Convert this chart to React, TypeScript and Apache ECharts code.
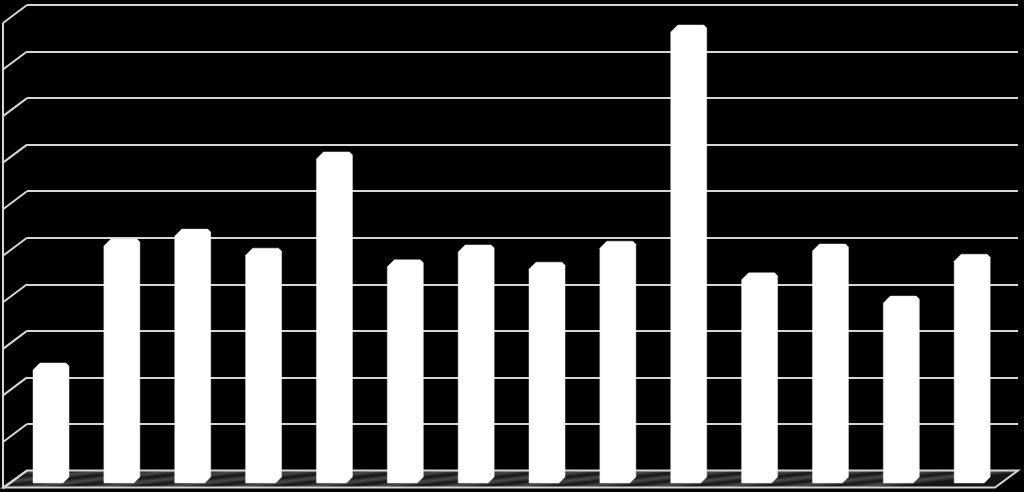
import React, { useEffect, useRef } from "react";
import * as echarts from "echarts";

const categories = ["1", "2", "3", "4", "5", "6", "7", "8", "9", "10", "11", "12", "13", "14"];
const values = [25.8, 52.5, 54.6, 50.5, 71.2, 48.0, 51.2, 47.5, 52.0, 98.5, 45.2, 51.4, 40.2, 49.2];
const gridTicks = [0, 10, 20, 30, 40, 50, 60, 70, 80, 90, 100];

export default function App() {
  const ref = useRef<HTMLDivElement>(null);
  useEffect(() => {
    const chart = echarts.init(ref.current!, null, { renderer: "svg" });
    const lineColor = "#d6d6d6";
    const floorStops: any[] = [];
    const n = 30;
    for (let i = 0; i <= n; i++) {
      floorStops.push({ offset: i / n, color: i % 2 === 0 ? "#151515" : "#4a4a4a" });
    }
    chart.setOption({
      animation: false,
      backgroundColor: "#000000",
      grid: [
        { left: 27, top: 5, width: 991, height: 465.5 },
        { left: 15.6, top: 18, width: 992, height: 465 },
      ],
      xAxis: [
        { type: "value", gridIndex: 0, min: 0, max: 1, show: false },
        { type: "category", gridIndex: 1, data: categories, show: false },
      ],
      yAxis: [
        {
          type: "value", gridIndex: 0, min: 0, max: 100, interval: 10,
          axisLine: { show: false }, axisTick: { show: false }, axisLabel: { show: false },
          splitLine: { show: true, lineStyle: { color: lineColor, width: 2 } },
        },
        { type: "value", gridIndex: 1, min: 0, max: 100, show: false },
      ],
      graphic: [
        {
          type: "polygon",
          z: 1,
          shape: { points: [[27, 470.5], [1018, 470.5], [995, 487.5], [3, 487.5]] },
          style: {
            fill: new echarts.graphic.LinearGradient(0, 0, 1, 0.15, floorStops),
            stroke: lineColor,
            lineWidth: 2,
          },
        },
        {
          type: "line",
          z: 1,
          shape: { x1: 3, y1: 23, x2: 3, y2: 488 },
          style: { stroke: lineColor, lineWidth: 2 },
        },
      ],
      series: [
        {
          type: "custom",
          xAxisIndex: 0,
          yAxisIndex: 0,
          z: 3,
          data: gridTicks.map((v) => [0, v]),
          renderItem: (params: any, api: any) => {
            const p = api.coord([0, api.value(1)]);
            return {
              type: "line",
              shape: { x1: p[0] - 24, y1: p[1] + 18, x2: p[0], y2: p[1] },
              style: { stroke: lineColor, lineWidth: 2 },
            };
          },
        },
        {
          type: "custom",
          xAxisIndex: 1,
          yAxisIndex: 1,
          z: 5,
          data: values.map((v, i) => [i, v]),
          renderItem: (params: any, api: any) => {
            const top = api.coord([api.value(0), api.value(1)]);
            const base = api.coord([api.value(0), 0]);
            const w = 36;
            const x0 = top[0] - w / 2;
            const x1 = top[0] + w / 2;
            const y0 = top[1];
            const y1 = base[1];
            return {
              type: "polygon",
              shape: {
                points: [
                  [x0, y0 + 7], [x0 + 7, y0], [x1 - 3, y0], [x1, y0 + 3],
                  [x1, y1 - 6], [x1 - 6, y1], [x0, y1],
                ],
              },
              style: { fill: "#ffffff", stroke: "#e8e8e8", lineWidth: 0.5 },
            };
          },
        },
      ],
    });
    return () => chart.dispose();
  }, []);
  return (
    <div
      ref={ref}
      style={{ position: "fixed", left: 0, top: 0, width: 1024, height: 492, background: "#000" }}
    />
  );
}
